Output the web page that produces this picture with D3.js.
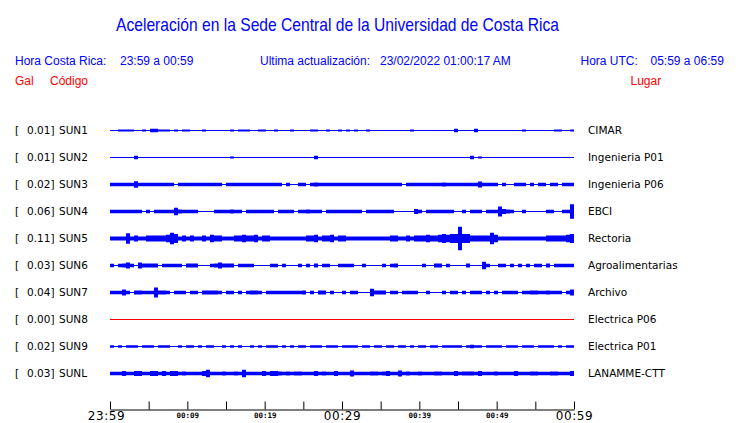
<!DOCTYPE html>
<html><head><meta charset="utf-8">
<script src="https://cdn.jsdelivr.net/npm/d3@7"></script>
<style>body{margin:0;background:#fff}svg{display:block}</style>
</head><body>
<svg id="c" width="740" height="423"></svg>
<script>
const title = "Aceleración en la Sede Central de la Universidad de Costa Rica";
const headerLeft = ["Hora Costa Rica:", "23:59 a 00:59"];
const headerMid = ["Ultima actualización:", "23/02/2022 01:00:17 AM"];
const headerRight = ["Hora UTC:", "05:59 a 06:59"];
const colHeads = ["Gal", "Código", "Lugar"];

const codes = ["SUN1","SUN2","SUN3","SUN4","SUN5","SUN6","SUN7","SUN8","SUN9","SUNL"];
const gal = ["0.01","0.01","0.02","0.06","0.11","0.03","0.04","0.00","0.02","0.03"];
const places = ["CIMAR","Ingenieria P01","Ingenieria P06","EBCI","Rectoria","Agroalimentarias","Archivo","Electrica P06","Electrica P01","LANAMME-CTT"];

// amplitude envelope per station, one base-36 digit per 1/116 of the hour
const envelopes = [
  "0011110010"+"3311101011"+"0001000000"+"1011100110"+"0100010000"+"1100100101"+"0100100000"+"0000010000"+"0000003000"+"0300000000"+"0001000000"+"011001",
  "0000003000"+"0000000000"+"0000000000"+"1000000000"+"0000000000"+"0300000000"+"0000000000"+"0000000000"+"0000000000"+"3010000000"+"0000000000"+"000000",
  "3333337333"+"3333330333"+"3333333303"+"3333333333"+"3330300330"+"3433333333"+"3333333333"+"3330333333"+"3334333333"+"3363333030"+"0333030330"+"330333",
  "3333333303"+"0333338433"+"3300003333"+"4330333333"+"3033330334"+"3330333333"+"3330333333"+"3000005303"+"3333330030"+"3330333b54"+"3003000003"+"30033h",
  "4444c46446"+"66668da464"+"6446486644"+"4668668466"+"4444444446"+"6846684664"+"4444444444"+"6644646668"+"668a8aasaa"+"66666d8444"+"4444444446"+"66668a",
  "3034630644"+"4403333304"+"4400034644"+"4033330000"+"3303000303"+"0403300333"+"3003000030"+"3400000030"+"0440300004"+"0008300330"+"3030303304"+"033333",
  "3336304433"+"3b44303330"+"3304444303"+"3030344303"+"3333333340"+"3044030030"+"3300084440"+"3303333003"+"0003033030"+"3330303033"+"3303344334"+"333036",
  "0000000000"+"0000000000"+"0000000000"+"0000000000"+"0000000000"+"0000000000"+"0000000000"+"0000000000"+"0000000000"+"0000000000"+"0000000000"+"000000",
  "2020222022"+"2022200202"+"2020220020"+"2020020202"+"2202020220"+"2220222022"+"2202202202"+"2022020220"+"2202222202"+"3220222202"+"2202220222"+"202022",
  "3335335533"+"5535355343"+"3335833343"+"3438333353"+"5543434433"+"3534335333"+"6333344345"+"3363433433"+"3443335344"+"4353334333"+"3533344333"+"443335"
];

const tickTimes = ["23:59","00:04","00:09","00:14","00:19","00:24","00:29","00:34","00:39","00:44","00:49","00:54","00:59"];
const tickLabels = ["23:59","","00:09","","00:19","","00:29","","00:39","","00:49","","00:59"];
const majorLabels = ["23:59","00:29","00:59"];

const svg = d3.select("#c");
const BLUE = "#0000ff", RED = "#ff0000";
const parse = d3.timeParse("%Y-%m-%d %H:%M");
const toDate = s => parse((s.startsWith("23") ? "2022-02-22 " : "2022-02-23 ") + s);
const t0 = toDate(tickTimes[0]), t1 = toDate(tickTimes[tickTimes.length-1]);

const x = d3.scaleTime().domain([t0, t1]).range([110, 574]);
const y = d3.scalePoint().domain(codes).range([130.5, 373.5]);
const amp = d3.scaleLinear().domain([0, 20]).range([0.5, 8.5]);

const sans = "'Liberation Sans', Arial, Helvetica, sans-serif";
const dv = "'DejaVu Sans', sans-serif";

// title and headers
svg.append("text").attr("x", 337.5).attr("y", 30.5).attr("text-anchor","middle")
  .attr("font-family", "'Liberation Sans Narrow', 'Liberation Sans', Arial, sans-serif")
  .attr("font-size", 19).attr("fill", BLUE)
  .attr("textLength", 443).attr("lengthAdjust", "spacingAndGlyphs").text(title);

const hdr = (txt, xx, yy, col) => svg.append("text").attr("x", xx).attr("y", yy)
  .attr("font-family", sans).attr("font-size", 12).attr("fill", col).text(txt);
hdr(headerLeft[0], 15, 65, BLUE); hdr(headerLeft[1], 120, 65, BLUE);
hdr(headerMid[0], 260, 65, BLUE); hdr(headerMid[1], 380, 65, BLUE);
hdr(headerRight[0], 580.5, 65, BLUE); hdr(headerRight[1], 650.5, 65, BLUE);
hdr(colHeads[0], 15, 85, RED); hdr(colHeads[1], 50, 85, RED); hdr(colHeads[2], 630.5, 85, RED);

// traces
const dt = (t1 - t0);
const area = d3.area().curve(d3.curveStepAfter);
codes.forEach((c, k) => {
  const s = envelopes[k];
  const n = s.length;
  const vals = Array.from(s, ch => parseInt(ch, 36));
  vals.push(vals[n-1]);
  const cy = y(c);
  const dead = d3.max(vals) === 0;
  area.x((d, i) => x(new Date(+t0 + dt * i / n)))
      .y0(d => cy + amp(d))
      .y1(d => cy - amp(d));
  svg.append("path").attr("d", area(vals)).attr("fill", dead ? RED : BLUE);

  const g = svg.append("g").attr("font-family", dv).attr("font-size", 10.5).attr("fill", "#000");
  const by = cy + 3.5;
  g.append("text").attr("x", 15).attr("y", by).text("[");
  g.append("text").attr("x", 54.5).attr("y", by).attr("text-anchor","end").text(gal[k] + "]");
  g.append("text").attr("x", 59).attr("y", by).text(c);
  g.append("text").attr("x", 588).attr("y", by).text(places[k]);
});

// time axis
const axis = d3.axisBottom(x)
  .tickValues(tickTimes.map(toDate))
  .tickSizeInner(-8).tickSizeOuter(0)
  .tickFormat((d, i) => tickLabels[i]);
const ax = svg.append("g").attr("transform", "translate(0,409.5)").call(axis);
ax.select(".domain").attr("stroke", "#000");
ax.selectAll(".tick line").attr("stroke", "#000");
ax.selectAll(".tick text").each(function(d, i) {
  const big = majorLabels.includes(tickLabels[i]);
  d3.select(this).attr("fill", "#000")
    .attr("font-family", big ? "'DejaVu Sans', sans-serif" : "'DejaVu Sans Mono', monospace")
    .attr("font-size", big ? 12 : 7.5)
    .attr("font-weight", big ? "normal" : "bold")
    .attr("letter-spacing", big ? 0.6 : 0)
    .attr("dx", i === 0 ? -4 : 0)
    .attr("y", big ? 2 : 3);
});
</script>
</body></html>
